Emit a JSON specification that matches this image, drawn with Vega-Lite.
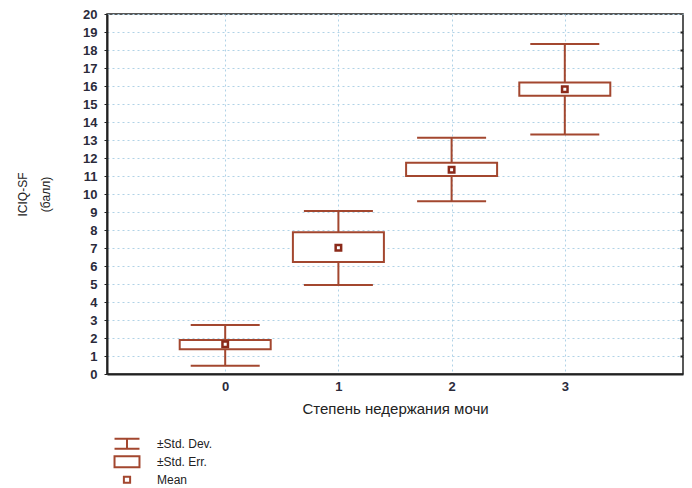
{
  "$schema": "https://vega.github.io/schema/vega-lite/v6.json",
  "width": 576,
  "height": 360,
  "autosize": {"type": "none"},
  "padding": {"left": 107, "top": 14, "right": 9, "bottom": 114},
  "background": "white",
  "config": {
    "font": "Liberation Sans",
    "view": {"stroke": "#222222", "strokeWidth": 1.5}
  },
  "datasets": {
    "stats": [
      {"grp": 0, "mean": 1.65, "se_lo": 1.37, "se_hi": 1.89, "sd_lo": 0.46, "sd_hi": 2.72},
      {"grp": 1, "mean": 7.02, "se_lo": 6.22, "se_hi": 7.87, "sd_lo": 4.94, "sd_hi": 9.06},
      {"grp": 2, "mean": 11.35, "se_lo": 11.0, "se_hi": 11.74, "sd_lo": 9.6, "sd_hi": 13.13},
      {"grp": 3, "mean": 15.82, "se_lo": 15.46, "se_hi": 16.2, "sd_lo": 13.3, "sd_hi": 18.33}
    ],
    "legend": [
      {"item": "±Std. Dev."},
      {"item": "±Std. Err."},
      {"item": "Mean"}
    ]
  },
  "resolve": {"axis": {"y": "independent"}},
  "layer": [
    {
      "data": {"name": "stats"},
      "mark": {"type": "rule", "color": "#a3472f", "strokeWidth": 2},
      "encoding": {
        "x": {
          "field": "grp", "type": "quantitative",
          "scale": {"domain": [-1, 4], "nice": false},
          "axis": {
            "values": [0, 1, 2, 3], "format": "d",
            "title": "Степень недержания мочи",
            "titleFont": "Liberation Sans", "titleFontSize": 15, "titleFontWeight": "normal", "titleColor": "#222222", "titlePadding": 8,
            "labelFontSize": 13, "labelFontWeight": "bold", "labelColor": "#2b2b3b", "labelPadding": 6,
            "domainColor": "#222222", "domainWidth": 2,
            "tickSize": 0,
            "grid": true, "gridColor": "#b0d2e6", "gridDash": [2, 3], "gridWidth": 1
          }
        },
        "y": {
          "field": "sd_lo", "type": "quantitative",
          "scale": {"domain": [0, 20], "nice": false},
          "axis": {
            "values": [0, 1, 2, 3, 4, 5, 6, 7, 8, 9, 10, 11, 12, 13, 14, 15, 16, 17, 18, 19, 20],
            "title": ["ICIQ-SF", "(балл)"],
            "titleFontSize": 12, "titleFontWeight": "normal", "titleColor": "#222222", "titleLineHeight": 23, "titlePadding": 30,
            "labelFontSize": 13, "labelFontWeight": "bold", "labelColor": "#2b2b3b", "labelPadding": 7,
            "domainColor": "#222222", "domainWidth": 2,
            "tickSize": 3, "tickColor": "#222222",
            "grid": true, "gridColor": "#b0d2e6", "gridDash": [2, 3], "gridWidth": 1
          }
        },
        "y2": {"field": "sd_hi"}
      }
    },
    {
      "data": {"name": "stats"},
      "mark": {"type": "tick", "orient": "horizontal", "size": 69, "thickness": 2, "color": "#a3472f", "opacity": 1},
      "encoding": {
        "x": {"field": "grp", "type": "quantitative"},
        "y": {"field": "sd_lo", "type": "quantitative", "axis": null}
      }
    },
    {
      "data": {"name": "stats"},
      "mark": {"type": "tick", "orient": "horizontal", "size": 69, "thickness": 2, "color": "#a3472f", "opacity": 1},
      "encoding": {
        "x": {"field": "grp", "type": "quantitative"},
        "y": {"field": "sd_hi", "type": "quantitative", "axis": null}
      }
    },
    {
      "data": {"name": "stats"},
      "mark": {"type": "bar", "width": 91, "fill": "white", "stroke": "#a3472f", "strokeWidth": 2},
      "encoding": {
        "x": {"field": "grp", "type": "quantitative"},
        "y": {"field": "se_lo", "type": "quantitative", "axis": null},
        "y2": {"field": "se_hi"}
      }
    },
    {
      "data": {"name": "stats"},
      "mark": {"type": "point", "shape": "square", "size": 30, "filled": false, "fill": "white", "fillOpacity": 1, "stroke": "#8b2a1a", "strokeWidth": 2.5, "opacity": 1},
      "encoding": {
        "x": {"field": "grp", "type": "quantitative"},
        "y": {
          "field": "mean", "type": "quantitative",
          "axis": {
            "orient": "right", "labels": false, "title": null, "grid": false, "domain": false,
            "values": [1, 2, 3, 4, 5, 6, 7, 8, 9, 10, 11, 12, 13, 14, 15, 16, 17, 18, 19],
            "tickSize": -3, "tickColor": "#222222", "tickWidth": 2
          }
        }
      }
    },
    {
      "data": {"name": "legend"},
      "mark": {"type": "point", "opacity": 0},
      "encoding": {
        "shape": {
          "field": "item", "type": "nominal",
          "scale": {
            "domain": ["±Std. Dev.", "±Std. Err.", "Mean"],
            "range": [
              "M-0.96,-0.38H0.96M0,-0.38V0.38M-0.96,0.38H0.96",
              "M-0.96,-0.42H0.96V0.42H-0.96Z",
              "M-0.24,-0.24H0.24V0.24H-0.24Z"
            ]
          },
          "legend": {
            "title": null,
            "orient": "none",
            "legendX": 6,
            "legendY": 421,
            "direction": "vertical",
            "padding": 0,
            "symbolSize": 676,
            "symbolOpacity": 1,
            "symbolStrokeColor": "#a3472f",
            "symbolFillColor": "white",
            "symbolStrokeWidth": 2,
            "labelFontSize": 12,
            "labelColor": "#222222",
            "labelOffset": 16,
            "clipHeight": 17.5,
            "rowPadding": 0
          }
        }
      }
    }
  ]
}
